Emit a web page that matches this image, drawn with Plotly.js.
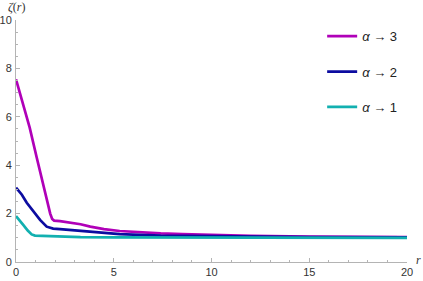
<!DOCTYPE html>
<html>
<head>
<meta charset="utf-8">
<script src="https://cdn.plot.ly/plotly-3.0.1.min.js"></script>
<style>html,body{margin:0;padding:0;background:#fff;}#chart{width:423px;height:281px;}</style>
</head>
<body>
<div id="chart"></div>
<script>
// Series: alpha -> 3 (magenta)
const r3 = [0, 0.35, 0.7, 1.05, 1.3, 1.55, 1.75, 1.85, 1.95, 2.25, 2.7, 3.3, 3.8, 4.5, 5.3, 6.3, 7.4, 8.5, 10, 12, 15, 20];
const z3 = [7.55, 6.6, 5.55, 4.35, 3.5, 2.65, 2.0, 1.78, 1.71, 1.69, 1.63, 1.56, 1.46, 1.36, 1.28, 1.22, 1.18, 1.15, 1.11, 1.08, 1.05, 1.03];
// Series: alpha -> 2 (blue)
const r2 = [0, 0.3, 0.55, 0.9, 1.23, 1.57, 1.75, 1.9, 2.25, 3.27, 3.8, 5.3, 7.4, 10, 15, 20];
const z2 = [3.07, 2.78, 2.45, 2.1, 1.74, 1.46, 1.4, 1.38, 1.36, 1.29, 1.23, 1.15, 1.09, 1.06, 1.03, 1.02];
// Series: alpha -> 1 (teal)
const r1 = [0, 0.2, 0.37, 0.6, 0.8, 0.97, 1.3, 2.25, 3.3, 5, 8, 12, 20];
const z1 = [1.9, 1.72, 1.53, 1.3, 1.14, 1.09, 1.08, 1.05, 1.03, 1.02, 1.01, 1.0, 1.0];
const seriesNames = ['<i>α</i> → 3', '<i>α</i> → 2', '<i>α</i> → 1'];
const xTicks = [0, 5, 10, 15, 20];
const yTicks = [0, 2, 4, 6, 8, 10];

const colors = ['#B000B8', '#0C0CA0', '#12B0B0'];
const xs = [r3, r2, r1], ys = [z3, z2, z1];
const traces = xs.map((x, i) => ({
  x: x, y: ys[i], type: 'scatter', mode: 'lines', name: seriesNames[i],
  legendgroup: 'g' + i,
  line: {color: colors[i], width: 2.7}
}));

const axisCommon = {
  showgrid: false, zeroline: false, showline: true, linecolor: '#b4b4b4', linewidth: 1,
  ticks: 'inside', ticklen: 4, tickcolor: '#b4b4b4', tickwidth: 1,
  tickfont: {family: 'Liberation Sans, Arial, sans-serif', size: 11, color: '#333'},
};
const layout = {
  width: 423, height: 281,
  margin: {l: 16, r: 16, t: 20, b: 19, pad: 0},
  paper_bgcolor: '#fff', plot_bgcolor: '#fff',
  showlegend: true,
  legend: {
    x: 0.783, y: 0.995, xanchor: 'left', yanchor: 'top',
    font: {family: 'Liberation Sans, Arial, sans-serif', size: 13, color: '#222'},
    tracegroupgap: 15.5, bgcolor: 'rgba(0,0,0,0)'
  },
  xaxis: Object.assign({}, axisCommon, {
    range: [0, 20], tickvals: xTicks, ticktext: xTicks.map(String),
    minor: {dtick: 1, ticks: 'inside', ticklen: 2, tickcolor: '#b4b4b4'}
  }),
  yaxis: Object.assign({}, axisCommon, {
    range: [0, 10], tickvals: yTicks, ticktext: yTicks.map(String),
    minor: {dtick: 0.5, ticks: 'inside', ticklen: 2, tickcolor: '#b4b4b4'},
    ticklabelstandoff: 1
  }),
  annotations: [
    {text: '<i>ζ</i>(<i>r</i>)', xref: 'paper', yref: 'paper', x: -0.025, y: 1.0, xanchor: 'left', yanchor: 'middle',
     showarrow: false, font: {family: 'Liberation Serif, serif', size: 12, color: '#333'}, yshift: 13},
    {text: '<i>r</i>', xref: 'paper', yref: 'paper', x: 1.0, y: 0, xanchor: 'left', yanchor: 'middle',
     showarrow: false, font: {family: 'Liberation Serif, serif', size: 12, color: '#333'}, xshift: 7, yshift: 2}
  ]
};
Plotly.newPlot('chart', traces, layout, {displayModeBar: false, staticPlot: true});
</script>
</body>
</html>
